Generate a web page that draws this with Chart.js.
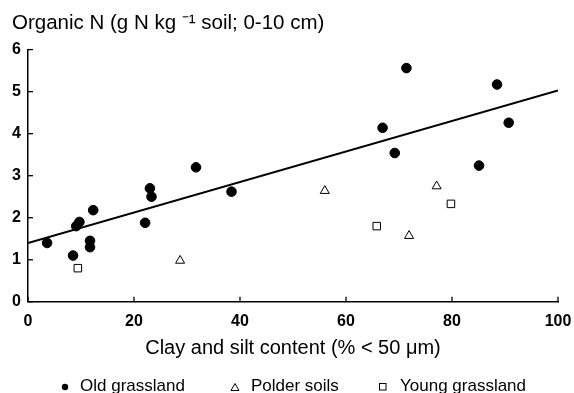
<!DOCTYPE html>
<html>
<head>
<meta charset="utf-8">
<script src="https://cdn.jsdelivr.net/npm/chart.js@4/dist/chart.umd.min.js"></script>
<style>
  body { margin: 0; background: #fff; }
  #wrap { width: 574px; height: 393px; position: relative; }
  .leg { position: absolute; top: 376px; height: 20px; line-height: 20px;
         font: 17px 'Liberation Sans', Arial, sans-serif; color: #000; white-space: nowrap; }
  .leg svg { position: absolute; top: 6px; }
</style>
</head>
<body>
<div id="wrap">
  <canvas id="myChart"></canvas>
  <div id="legend"></div>
</div>
<script>
// clay + silt (%) and organic N (g N / kg soil)
const oldX = [3.6, 8.5, 9.1, 9.7, 11.7, 11.7, 12.3, 22.1, 23.0, 23.3, 31.7, 38.4, 66.9, 69.2, 71.4, 85.1, 88.5, 90.7];
const oldY = [1.4, 1.1, 1.8, 1.9, 1.45, 1.3, 2.18, 1.88, 2.7, 2.5, 3.2, 2.62, 4.14, 3.54, 5.56, 3.24, 5.17, 4.26];
const polderX = [28.7, 56.0, 71.9, 77.1];
const polderY = [0.98, 2.64, 1.57, 2.75];
const youngX = [9.4, 65.8, 79.8];
const youngY = [0.8, 1.8, 2.33];
const fitX = [0, 100];
const fitY = [1.4, 5.03];
const xTicks = [0, 20, 40, 60, 80, 100];
const yTicks = [0, 1, 2, 3, 4, 5, 6];
const seriesNames = ["Old grassland", "Polder soils", "Young grassland"];

function pts(xs, ys) {
  return xs.map(function (x, i) { return { x: x, y: ys[i] }; });
}

const fontFam = "'Liberation Sans', Arial, sans-serif";

// legend under the axis title (html, so the gaps match the figure)
const legendSpots = [
  { left: 60, svg: '<svg width="10" height="10"><circle cx="5" cy="5" r="3.2" fill="#000"/></svg>' },
  { left: 230, svg: '<svg width="10" height="10"><polygon points="5,1.5 9,8.5 1,8.5" fill="none" stroke="#000" stroke-width="1"/></svg>' },
  { left: 378, svg: '<svg width="10" height="10"><rect x="1.5" y="1.5" width="6.5" height="6.5" fill="none" stroke="#000" stroke-width="1"/></svg>' }
];
let legHtml = "";
seriesNames.forEach(function (name, i) {
  const s = legendSpots[i];
  legHtml += '<div class="leg" style="left:' + s.left + 'px">' + s.svg +
    '<span style="margin-left:' + (i === 0 ? 20 : i === 1 ? 21 : 22) + 'px">' + name + '</span></div>';
});
document.getElementById("legend").innerHTML = legHtml;

// small inward tick marks, like the printed figure
const innerTicks = {
  id: "innerTicks",
  afterDraw: function (chart) {
    const ctx = chart.ctx;
    const xs = chart.scales.x, ys = chart.scales.y;
    const a = chart.chartArea;
    ctx.save();
    ctx.strokeStyle = "#000";
    ctx.lineWidth = 1.3;
    xTicks.forEach(function (v) {
      const px = xs.getPixelForValue(v);
      ctx.beginPath();
      ctx.moveTo(px, a.bottom);
      ctx.lineTo(px, a.bottom - 5);
      ctx.stroke();
    });
    yTicks.forEach(function (v) {
      const py = ys.getPixelForValue(v);
      ctx.beginPath();
      ctx.moveTo(a.left, py);
      ctx.lineTo(a.left + 5, py);
      ctx.stroke();
    });
    ctx.restore();
  }
};

new Chart("myChart", {
  type: "scatter",
  data: {
    datasets: [
      {
        label: seriesNames[0],
        data: pts(oldX, oldY),
        pointStyle: "circle",
        pointRadius: 4.8,
        backgroundColor: "#000",
        borderColor: "#000",
        borderWidth: 1
      },
      {
        label: seriesNames[1],
        data: pts(polderX, polderY),
        pointStyle: "triangle",
        pointRadius: 5.2,
        backgroundColor: "#fff",
        borderColor: "#000",
        borderWidth: 1
      },
      {
        label: seriesNames[2],
        data: pts(youngX, youngY),
        pointStyle: "rect",
        pointRadius: 5.3,
        backgroundColor: "#fff",
        borderColor: "#000",
        borderWidth: 1
      },
      {
        label: "fit",
        type: "line",
        data: pts(fitX, fitY),
        borderColor: "#000",
        borderWidth: 2,
        pointRadius: 0,
        fill: false
      }
    ]
  },
  options: {
    responsive: true,
    maintainAspectRatio: false,
    animation: false,
    layout: { padding: { left: 12, right: 16, top: 0, bottom: 33 } },
    plugins: {
      tooltip: { enabled: false },
      legend: { display: false },
      title: {
        display: true,
        text: "Organic N (g N kg \u207B\u00B9 soil; 0-10 cm)",
        align: "start",
        color: "#000",
        font: { family: fontFam, size: 20.5, weight: "normal" },
        padding: { top: 11, bottom: 14 }
      }
    },
    scales: {
      x: {
        type: "linear",
        min: 0,
        max: 100,
        afterFit: function (s) { s.paddingLeft = 0; s.paddingRight = 0; },
        grid: { display: false, drawTicks: false, tickLength: 0 },
        border: { color: "#000", width: 1.5 },
        ticks: { stepSize: 20, color: "#000", padding: 10, font: { family: fontFam, size: 16, weight: "bold" } },
        title: {
          display: true,
          text: "Clay and silt content (% < 50 \u03BCm)",
          color: "#000",
          font: { family: fontFam, size: 20 },
          padding: { top: -5, bottom: 0 }
        }
      },
      y: {
        min: 0,
        max: 6,
        afterFit: function (s) { s.width = 16; },
        grid: { display: false, drawTicks: false, tickLength: 0 },
        border: { color: "#000", width: 1.5 },
        ticks: { stepSize: 1, color: "#000", padding: 7, font: { family: fontFam, size: 16, weight: "bold" } }
      }
    }
  },
  plugins: [innerTicks]
});
</script>
</body>
</html>
